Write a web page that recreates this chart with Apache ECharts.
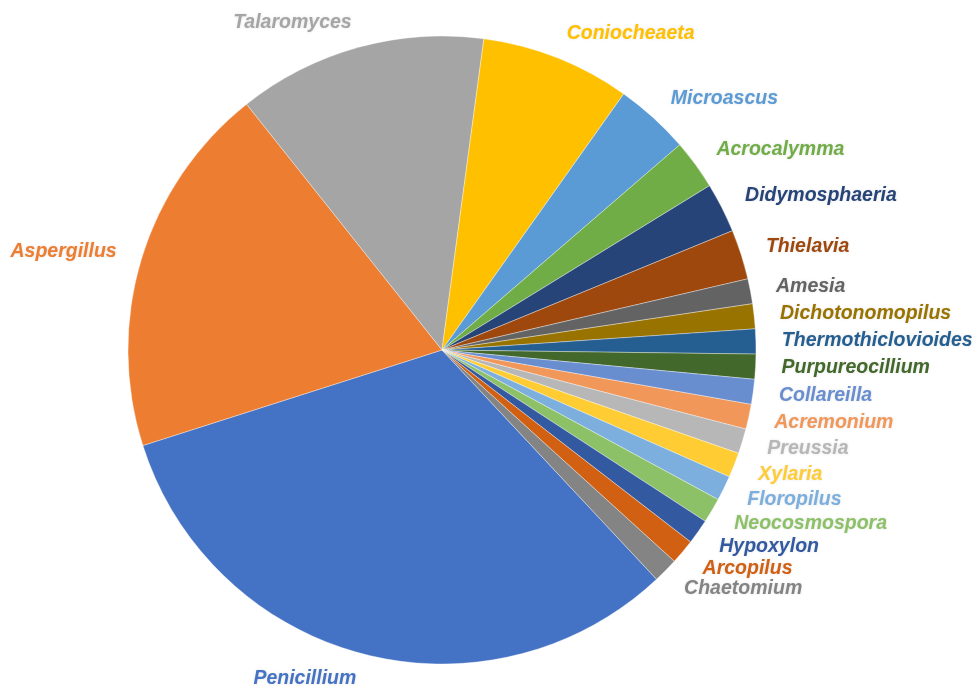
<!DOCTYPE html>
<html>
<head>
<meta charset="utf-8">
<script src="https://cdn.jsdelivr.net/npm/echarts@6/dist/echarts.min.js"></script>
<style>
html,body{margin:0;padding:0;background:#fff;}
#chart{width:976px;height:695px;}
</style>
</head>
<body>
<div id="chart"></div>
<script>
// Genera (clockwise order starting with Penicillium)
const categories = ['Penicillium','Aspergillus','Talaromyces','Coniocheaeta','Microascus','Acrocalymma','Didymosphaeria','Thielavia','Amesia','Dichotonomopilus','Thermothiclovioides','Purpureocillium','Collareilla','Acremonium','Preussia','Xylaria','Floropilus','Neocosmospora','Hypoxylon','Arcopilus','Chaetomium'];
// Counts
const values = [25,15,10,6,3,2,2,2,1,1,1,1,1,1,1,1,1,1,1,1,1];
const colors = ['#4472C4','#ED7D31','#A5A5A5','#FFC000','#5B9BD5','#70AD47','#264478','#9E480E','#636363','#997300','#255E91','#43682B','#698ED0','#F1975A','#B7B7B7','#FFCD33','#7CAFDD','#8CC168','#335AA1','#D26012','#848484'];

const data = categories.map((c, i) => ({
  name: c,
  value: values[i],
  itemStyle: { color: colors[i] },
  label: { color: colors[i] }
}));

const chart = echarts.init(document.getElementById('chart'), null, {renderer: 'canvas'});
chart.setOption({
  animation: false,
  backgroundColor: '#ffffff',
  series: [{
    type: 'pie',
    center: [442, 350],
    radius: 314,
    startAngle: -46.9,
    clockwise: true,
    avoidLabelOverlap: false,
    itemStyle: { borderColor: 'rgba(255,255,255,0.6)', borderWidth: 0.6 },
    label: {
      show: true,
      position: 'outside',
      formatter: '{b}',
      fontFamily: 'Liberation Sans, Arial, sans-serif',
      fontSize: 19.5,
      fontWeight: 'bold',
      fontStyle: 'italic',
      distanceToLabelLine: 0,
      textShadowColor: 'rgba(0,0,0,0.12)',
      textShadowBlur: 3
    },
    labelLine: { show: false, length: 26, length2: 0 },
    emphasis: { disabled: true },
    data: data
  }]
});
</script>
</body>
</html>
